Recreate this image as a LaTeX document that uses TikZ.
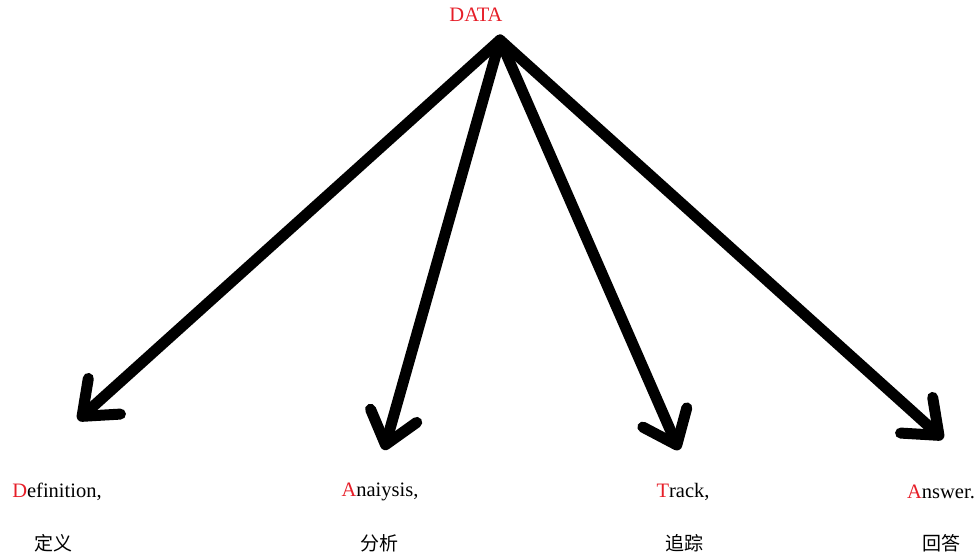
\documentclass[tikz,border=0pt]{standalone}
\usepackage{fontspec}
\setmainfont{Liberation Serif}
\newfontfamily\cjk{Noto Sans CJK SC}
\usetikzlibrary{arrows.meta}
\definecolor{datared}{RGB}{230,30,40}
\begin{document}
\begin{tikzpicture}[x=1pt,y=-1pt,
  bigarrow/.style={line width=11pt,line cap=round,
    -{Straight Barb[length=30pt,width=48pt,line width=11pt,line cap=round,round]}},
  lab/.style={font=\fontsize{20.5}{24}\selectfont,inner sep=0pt},
  cjklab/.style={font=\cjk\fontsize{19}{23}\selectfont,inner sep=0pt}]
\useasboundingbox (0,0) rectangle (976,557);
\node[lab,text=datared] (data) at (476,15) {DATA};
\coordinate (apex) at (500,40);
\coordinate (t1) at (78,420);
\coordinate (t2) at (384,450);
\coordinate (t3) at (679,450);
\coordinate (t4) at (943,439);
\draw[bigarrow] (apex) -- (t1);
\draw[bigarrow] (apex) -- (t2);
\draw[bigarrow] (apex) -- (t3);
\draw[bigarrow] (apex) -- (t4);
\node[lab] (d) at (57,492) {\textcolor{datared}{D}efinition,};
\node[lab] (a1) at (380,492) {\textcolor{datared}{A}naiysis,};
\node[lab] (tr) at (683,492) {\textcolor{datared}{T}rack,};
\node[lab] (an) at (941,492) {\textcolor{datared}{A}nswer.};
\node[cjklab] (c1) at (53,543) {定义};
\node[cjklab] (c2) at (379,543) {分析};
\node[cjklab] (c3) at (684,543) {追踪};
\node[cjklab] (c4) at (941,543) {回答};
\end{tikzpicture}
\end{document}
